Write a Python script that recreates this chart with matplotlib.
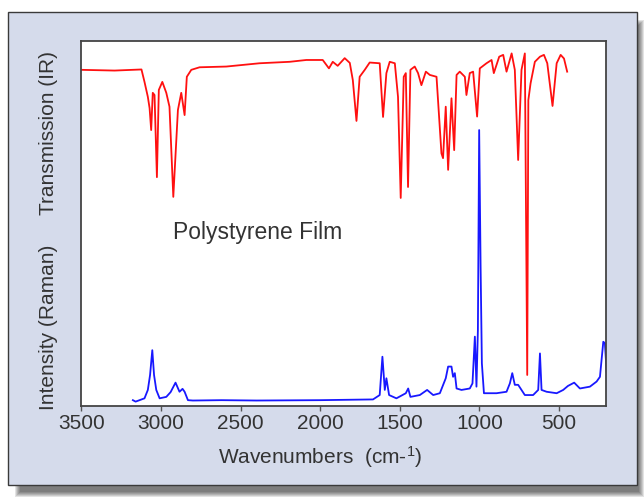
import matplotlib
matplotlib.use('Agg')
import matplotlib.pyplot as plt
from matplotlib.patches import Rectangle

plt.rcParams['font.family'] = ['Liberation Sans', 'DejaVu Sans']
plt.rcParams['mathtext.default'] = 'regular'

# IR transmission spectrum (arbitrary %)
ir_wn = [3500, 3292, 3123, 3104, 3083, 3072, 3062, 3052, 3041, 3026, 3014, 2992,
         2967, 2947, 2923, 2894, 2873, 2852, 2838, 2810, 2758, 2590, 2381, 2192,
         2087, 1984, 1945, 1921, 1890, 1846, 1814, 1795, 1772, 1752, 1720, 1689,
         1626, 1605, 1584, 1563, 1531, 1511, 1494, 1475, 1462, 1448, 1433, 1406,
         1385, 1364, 1336, 1311, 1269, 1238, 1228, 1211, 1196, 1175, 1158, 1143,
         1123, 1091, 1081, 1060, 1039, 1014, 997, 955, 923, 909, 875, 850,
         829, 797, 777, 756, 735, 714, 699, 692, 678, 651, 619, 594,
         573, 540, 514, 489, 468, 448]
ir_trans = [92.1, 91.9, 92.2, 88.8, 84.7, 81.6, 75.6, 85.8, 85.2, 62.7, 86.6, 88.8,
            85.8, 82.0, 57.3, 81.1, 85.8, 79.7, 90.2, 92.1, 92.8, 93.0, 93.9, 94.3,
            94.8, 94.8, 92.5, 94.3, 93.2, 95.3, 94.0, 89.3, 78.1, 90.2, 92.1, 94.1,
            93.9, 79.2, 91.2, 94.3, 93.9, 84.7, 57.0, 90.2, 91.2, 60.0, 92.1, 93.0,
            91.2, 87.9, 91.6, 90.7, 90.2, 69.2, 67.9, 82.0, 64.7, 84.3, 70.1, 90.7,
            91.6, 90.2, 85.2, 91.2, 91.6, 79.3, 92.5, 93.9, 94.8, 91.2, 95.7, 96.2,
            91.6, 96.6, 92.1, 67.4, 92.1, 96.6, 8.5, 83.8, 88.4, 94.3, 95.7, 96.2,
            93.9, 82.2, 93.9, 96.2, 95.2, 91.6]

# Raman intensity spectrum (arbitrary units)
raman_wn = [3177, 3160, 3135, 3104, 3083, 3069, 3055, 3044, 3030, 3009, 2967, 2940,
            2909, 2884, 2865, 2852, 2831, 2800, 2620, 2400, 2000, 1668, 1626, 1609,
            1594, 1584, 1567, 1521, 1462, 1447, 1433, 1374, 1328, 1290, 1248, 1211,
            1196, 1175, 1165, 1154, 1143, 1112, 1060, 1043, 1028, 1018, 1009, 1001,
            992, 984, 971, 934, 892, 829, 808, 793, 777, 756, 714, 662,
            630, 619, 609, 577, 514, 473, 443, 404, 368, 305, 263, 242,
            221, 211, 200]
raman_int = [1.6, 1.2, 1.6, 2.1, 4.4, 8.5, 15.3, 8.5, 4.4, 2.1, 2.5, 3.8,
             6.4, 3.9, 4.7, 3.9, 1.6, 1.5, 1.6, 1.5, 1.6, 1.8, 3.0, 13.5,
             4.4, 7.6, 3.0, 2.1, 3.5, 4.8, 2.5, 3.0, 4.4, 3.0, 3.5, 7.6,
             10.8, 10.8, 8.0, 9.0, 4.8, 4.4, 4.8, 6.2, 19.0, 5.3, 20.8, 75.6,
             38.2, 11.7, 3.5, 3.5, 3.5, 3.9, 6.2, 9.0, 5.8, 5.8, 3.0, 3.0,
             4.4, 14.4, 4.4, 3.9, 3.5, 4.4, 5.5, 6.4, 4.8, 5.3, 6.7, 8.0,
             17.6, 17.2, 9.4]

x_ticks = [3500, 3000, 2500, 2000, 1500, 1000, 500]

W, H = 644, 498


def px(x0, y0, x1, y1):
    # pixel box (top-left origin) -> figure fraction rect
    return (x0 / W, 1 - y1 / H, (x1 - x0) / W, (y1 - y0) / H)


fig = plt.figure(figsize=(W / 100, H / 100), dpi=100)
fig.patch.set_facecolor('white')

# soft drop shadow under the panel
for k in range(6):
    r = px(15 + k, 20 + k, 644 - k, 497 - k)
    fig.patches.append(Rectangle(r[:2], r[2], r[3], transform=fig.transFigure,
                                 facecolor='black', alpha=0.11, lw=0, zorder=-3))

panel = px(8, 12, 637, 485)
fig.patches.append(Rectangle(panel[:2], panel[2], panel[3], transform=fig.transFigure,
                             facecolor='#D5DBEB', edgecolor='#3a3a3a', lw=1, zorder=-2))

ax = fig.add_axes(px(81, 41, 606, 406))
ax.set_facecolor('white')
ax.plot(raman_wn, raman_int, color='#1818FF', lw=1.3)
ax.plot(ir_wn, ir_trans, color='#FF1010', lw=1.3)
ax.set_xlim(3503, 204)
ax.set_ylim(0, 100)
ax.set_yticks([])
ax.set_xticks(x_ticks)
ax.tick_params(axis='x', direction='out', length=3.5, width=1, color='#555555',
               labelsize=15, labelcolor='#333333', pad=2)
for s in ax.spines.values():
    s.set_color('#444444')
    s.set_linewidth(1.3)

ax.text(0.175, 0.474, 'Polystyrene Film', transform=ax.transAxes, ha='left', va='center',
        fontsize=16.5, color='#333333')

fig.text(320 / W, 1 - 457 / H, 'Wavenumbers  (cm-$^{1}$)', ha='center', va='center',
         fontsize=15, color='#333333')
fig.text(49 / W, 1 - 133 / H, 'Transmission (IR)', rotation=90, ha='center', va='center',
         fontsize=15, color='#333333')
fig.text(49 / W, 1 - 327 / H, 'Intensity (Raman)', rotation=90, ha='center', va='center',
         fontsize=15, color='#333333')

fig.savefig('out.png', dpi=100, facecolor=fig.get_facecolor())
